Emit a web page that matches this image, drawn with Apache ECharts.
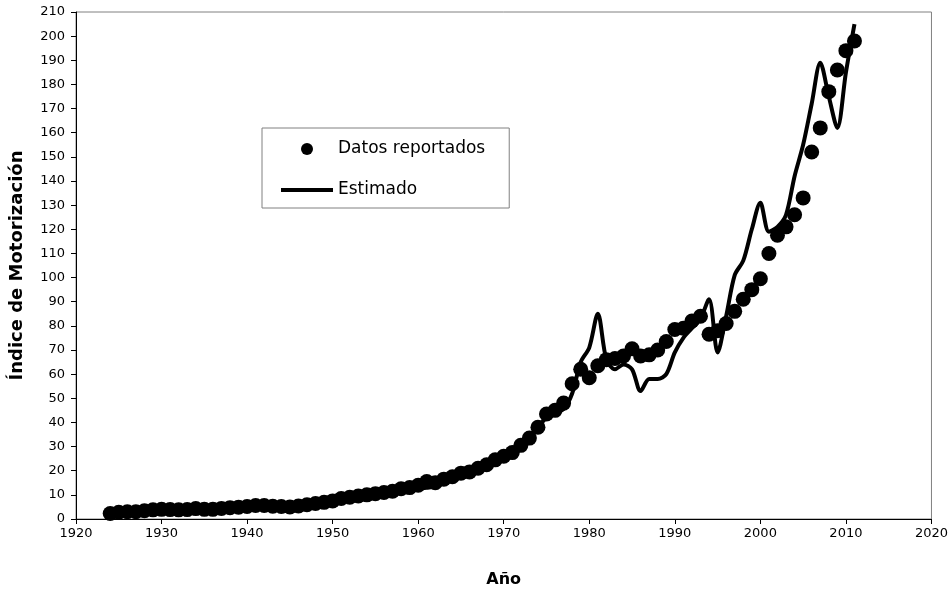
<!DOCTYPE html>
<html>
<head>
<meta charset="utf-8">
<script src="https://cdn.jsdelivr.net/npm/echarts@6/dist/echarts.min.js"></script>
<style>
  html, body { margin: 0; padding: 0; background: #fff; }
  #chart { width: 951px; height: 594px; }
</style>
</head>
<body>
<div id="chart"></div>
<script>
// Years covered by the series
const years = [];
for (let y = 1924; y <= 2011; y++) years.push(y);

// Reported motorization index (one value per year, 1924-2011)
const reported = [
  2.3, 2.8, 3.0, 3.0, 3.4, 3.8, 4.0, 3.9, 3.8, 3.9,
  4.3, 4.0, 4.0, 4.4, 4.7, 4.9, 5.2, 5.6, 5.6, 5.3,
  5.2, 5.0, 5.4, 5.9, 6.4, 6.9, 7.5, 8.5, 9.0, 9.5,
  10.0, 10.5, 11.0, 11.5, 12.5, 13.0, 14.0, 15.5, 15.0, 16.5,
  17.5, 19.0, 19.5, 21.0, 22.5, 24.5, 26.0, 27.5, 30.5, 33.5,
  38.0, 43.5, 45.0, 48.0, 56.0, 62.0, 58.5, 63.5, 66.0, 66.5,
  67.5, 70.5, 67.5, 68.0, 70.0, 73.5, 78.5, 79.0, 82.0, 84.0,
  76.5, 78.0, 81.0, 86.0, 91.0, 95.0, 99.5, 110.0, 117.5, 121.0,
  126.0, 133.0, 152.0, 162.0, 177.0, 186.0, 194.0, 198.0
];

// Model estimate (one value per year, 1924-2011)
const estimated = [
  2.0, 2.3, 2.6, 2.9, 3.2, 3.4, 3.6, 3.7, 3.8, 3.9,
  4.0, 4.1, 4.2, 4.4, 4.6, 4.8, 5.0, 5.2, 5.3, 5.3,
  5.3, 5.4, 5.6, 6.0, 6.4, 6.9, 7.5, 8.1, 8.7, 9.3,
  9.9, 10.5, 11.0, 11.5, 11.9, 12.3, 12.6, 12.9, 13.5, 15.0,
  16.5, 18.0, 19.3, 20.8, 22.5, 24.0, 25.5, 27.5, 30.5, 34.0,
  38.0, 42.0, 44.0, 45.5, 52.0, 65.0, 71.0, 85.0, 66.0, 62.0,
  64.0, 62.0, 53.0, 58.0, 58.0, 60.0, 69.0, 75.0, 79.0, 83.0,
  91.0, 69.0, 84.0, 101.0, 107.0, 120.0, 131.0, 119.0, 121.0, 126.0,
  142.0, 155.0, 172.0, 189.0, 175.0, 162.0, 185.0, 205.0
];

// Axis ranges and tick spacing
const xRange = [1920, 2020];
const xStep = 10;
const yRange = [0, 210];
const yStep = 10;

const seriesNames = ['Datos reportados', 'Estimado'];

const font = 'DejaVu Sans, Verdana, sans-serif';

// Legend glyph for the fitted curve: a 4px bar centred in a 52x12 box
const lineIcon = 'path://M0,0M52,12M0,4h52v4h-52z';

const chart = echarts.init(document.getElementById('chart'), null, { renderer: 'canvas' });

chart.setOption({
  backgroundColor: '#ffffff',
  animation: false,
  grid: {
    left: 76, right: 19, top: 12, bottom: 75,
    show: true,
    borderColor: '#808080',
    borderWidth: 1
  },
  legend: {
    data: [
      { name: seriesNames[0], icon: 'circle' },
      { name: seriesNames[1], icon: lineIcon }
    ],
    orient: 'vertical',
    left: 262,
    top: 128,
    padding: [11, 24, 8, 19],
    itemWidth: 52,
    itemHeight: 12,
    itemGap: 21,
    borderColor: '#808080',
    borderWidth: 1,
    backgroundColor: '#ffffff',
    itemStyle: { color: '#000', opacity: 1 },
    textStyle: { fontFamily: font, fontSize: 17, color: '#000', lineHeight: 20 }
  },
  xAxis: {
    type: 'value',
    min: xRange[0], max: xRange[1], interval: xStep,
    name: 'Año',
    nameLocation: 'middle',
    nameGap: 53,
    nameTextStyle: { fontFamily: font, fontSize: 16, fontWeight: 'bold', color: '#000' },
    axisLine: { lineStyle: { color: '#000', width: 1 } },
    axisTick: { inside: false, length: 5, lineStyle: { color: '#000' } },
    axisLabel: {
      fontFamily: font, fontSize: 13, color: '#000', margin: 8,
      formatter: v => String(v)
    },
    splitLine: { show: false }
  },
  yAxis: {
    type: 'value',
    min: yRange[0], max: yRange[1], interval: yStep,
    name: 'Índice de Motorización',
    nameLocation: 'middle',
    nameRotate: 90,
    nameGap: 50,
    nameTextStyle: { fontFamily: font, fontSize: 18, fontWeight: 'bold', color: '#000' },
    axisLine: { show: true, lineStyle: { color: '#000', width: 1 } },
    axisTick: { show: true, inside: false, length: 5, lineStyle: { color: '#000' } },
    axisLabel: { fontFamily: font, fontSize: 13, color: '#000', margin: 11 },
    splitLine: { show: false }
  },
  series: [
    {
      name: seriesNames[0],
      type: 'scatter',
      symbol: 'circle',
      symbolSize: 15,
      itemStyle: { color: '#000', opacity: 1 },
      data: years.map((y, i) => [y, reported[i]]),
      z: 2
    },
    {
      name: seriesNames[1],
      type: 'line',
      showSymbol: false,
      symbol: 'none',
      smooth: 0.3,
      lineStyle: { color: '#000', width: 4 },
      itemStyle: { color: '#000' },
      data: years.map((y, i) => [y, estimated[i]]),
      z: 3
    }
  ]
});
</script>
</body>
</html>
